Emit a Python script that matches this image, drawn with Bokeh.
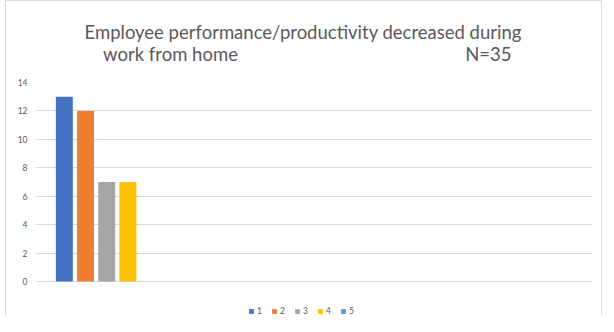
from bokeh.plotting import figure
from bokeh.models import Range1d, Title, Legend, LegendItem, FixedTicker, ColumnDataSource
from bokeh.embed import file_html
from bokeh.resources import INLINE

# ---- data ----
categories = ["1", "2", "3", "4", "5"]
values = [13, 12, 7, 7, 0]
colors = ["#4472C4", "#ED7D31", "#A5A5A5", "#FFC000", "#5B9BD5"]
y_ticks = [0, 2, 4, 6, 8, 10, 12, 14]
title_text = ("Employee performance/productivity decreased during\n"
              + "\u00a0" * 4 + "work from home" + "\u00a0" * 48 + "N=35")

FONT = "Lato"
TXT = "#595959"

p = figure(width=597, height=315, output_backend="svg", toolbar_location=None,
           x_range=Range1d(-1.36, 24.92), y_range=Range1d(-2.46, 14),
           min_border_left=29, min_border_right=11, min_border_top=81, min_border_bottom=0)
p.styles = {"margin-left": "5px",
            "border-left": "1px solid #d9d9d9", "border-top": "1px solid #d9d9d9",
            "border-right": "1px solid #d9d9d9"}
p.outline_line_color = None
p.background_fill_color = "white"
p.border_fill_color = "white"

items = []
for i, (cat, val, col) in enumerate(zip(categories, values, colors)):
    src = ColumnDataSource(dict(x=[i], top=[val]))
    r = p.vbar(x="x", top="top", bottom=0, width=0.8, source=src,
               fill_color=col, line_color=None)
    items.append(LegendItem(label=cat, renderers=[r]))

p.xaxis.visible = False
p.xgrid.visible = False
p.yaxis.ticker = FixedTicker(ticks=y_ticks)
p.yaxis.axis_line_color = None
p.yaxis.major_tick_line_color = None
p.yaxis.minor_tick_line_color = None
p.yaxis.major_label_text_font = FONT
p.yaxis.major_label_text_font_size = "8.5px"
p.yaxis.major_label_text_color = TXT
p.yaxis.major_label_standoff = 2
p.ygrid.grid_line_color = "#d9d9d9"
p.ygrid.grid_line_width = 1

p.add_layout(Title(text=title_text, align="left", offset=49, text_font=FONT,
                   text_font_size="18.5px", text_font_style="normal", text_color=TXT,
                   text_line_height=1.0, standoff=35), "above")

legend = Legend(items=items, orientation="horizontal", location=(213, 0),
                glyph_width=6, glyph_height=6, label_width=6, label_height=8,
                label_text_font=FONT, label_text_font_size="8.5px", label_text_color=TXT,
                spacing=8, label_standoff=3, padding=0, margin=0,
                border_line_color=None, background_fill_alpha=0)
p.add_layout(legend)

open("out.html", "w").write(file_html(p, INLINE))
